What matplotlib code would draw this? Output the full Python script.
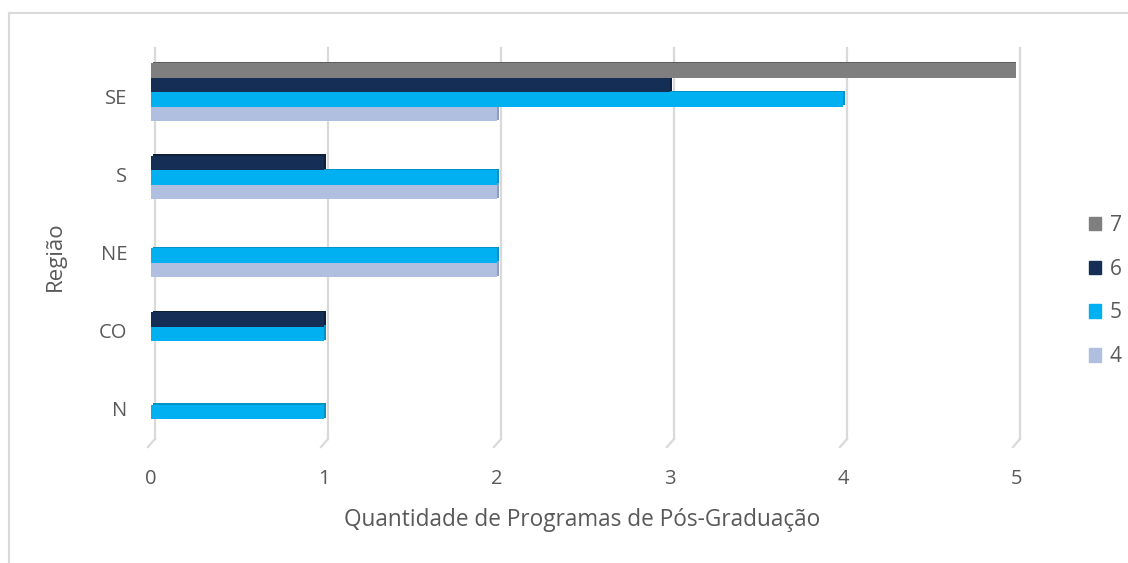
import matplotlib
matplotlib.use('Agg')
import matplotlib.pyplot as plt
import matplotlib.transforms as mtransforms
from matplotlib.patches import Patch
from matplotlib.lines import Line2D
import numpy as np

# Dados do grafico
regioes = ['N', 'CO', 'NE', 'S', 'SE']
conceitos = ['7', '6', '5', '4']
valores_7 = [0, 0, 0, 0, 5]
valores_6 = [0, 1, 0, 1, 3]
valores_5 = [1, 1, 2, 2, 4]
valores_4 = [0, 0, 2, 2, 2]
ticks_x = [0, 1, 2, 3, 4, 5]

cores = {'7': '#7F7F7F', '6': '#142E56', '5': '#00B0F0', '4': '#B0BEE0'}
sombras = {'7': '#5E5E5E', '6': '#0D1F3B', '5': '#0091C6', '4': '#8E9CC0'}

plt.rcParams['font.family'] = ['Open Sans', 'DejaVu Sans']
cinza_texto = '#595959'

fig = plt.figure(figsize=(11.28, 5.63), dpi=100)
ax = fig.add_axes([151 / 1128, 1 - 444 / 563, 865 / 1128, 391 / 563])

y = np.arange(len(regioes))
h = 0.185
series = [('7', valores_7, 1.5), ('6', valores_6, 0.5), ('5', valores_5, -0.5), ('4', valores_4, -1.5)]

# sombra (efeito 3D) deslocada para cima e para a direita
trans_sombra = ax.transData + mtransforms.ScaledTranslation(1.5 / 100, 1.5 / 100, fig.dpi_scale_trans)
for nome, vals, desl in series:
    ax.barh(y + desl * h, vals, height=h, color=sombras[nome], transform=trans_sombra, zorder=2)
for nome, vals, desl in series:
    ax.barh(y + desl * h, vals, height=h, color=cores[nome], zorder=3)

ax.set_xlim(0, 5)
ax.set_ylim(-0.5, 4.5)

# linhas de grade na parede de fundo + piso
trans_fundo = ax.transData + mtransforms.ScaledTranslation(4 / 100, 5 / 100, fig.dpi_scale_trans)
for xv in ticks_x:
    ax.add_line(Line2D([xv, xv], [-0.5, 4.5], color='#D9D9D9', lw=1.6, transform=trans_fundo, zorder=1, clip_on=False))
    x0, y0 = ax.transData.transform((xv, -0.5))
    inv = fig.transFigure.inverted()
    p1 = inv.transform((x0 + 4, y0 + 5))
    p2 = inv.transform((x0 - 3, y0 - 3))
    fig.add_artist(Line2D([p1[0], p2[0]], [p1[1], p2[1]], color='#D9D9D9', lw=1.6))

for s in ax.spines.values():
    s.set_visible(False)
ax.set_xticks(ticks_x)
ax.set_yticks(y)
ax.set_yticklabels(regioes)
ax.tick_params(axis='both', length=0, labelsize=14.5, labelcolor=cinza_texto)
ax.tick_params(axis='x', pad=18)
ax.tick_params(axis='y', pad=17)
# rotulos das regioes um pouco abaixo do centro (efeito 3D)
desce = mtransforms.ScaledTranslation(0, -4 / 100, fig.dpi_scale_trans)
for lab in ax.get_yticklabels():
    lab.set_transform(lab.get_transform() + desce)

fig.text(582 / 1128, 1 - 520 / 563, 'Quantidade de Programas de Pós-Graduação', ha='center', va='center',
         fontsize=16.3, color=cinza_texto)
fig.text(55 / 1128, 1 - 256 / 563, 'Região', ha='center', va='center', rotation=90,
         fontsize=16, color=cinza_texto)

handles = [Patch(color=cores[c]) for c in conceitos]
fig.legend(handles, conceitos, loc='center left', bbox_to_anchor=(1070 / 1128, 1 - 291 / 563),
           frameon=False, fontsize=15, labelcolor=cinza_texto, handlelength=0.6, handleheight=0.6,
           handletextpad=0.4, labelspacing=1.1)

# borda externa (apenas topo e esquerda visiveis)
fig.add_artist(Line2D([8.5 / 1128, 1], [1 - 12.5 / 563, 1 - 12.5 / 563], color='#D9D9D9', lw=1.5))
fig.add_artist(Line2D([8.5 / 1128, 8.5 / 1128], [0, 1 - 12.5 / 563], color='#D9D9D9', lw=1.5))

fig.savefig('out.png', dpi=100)
